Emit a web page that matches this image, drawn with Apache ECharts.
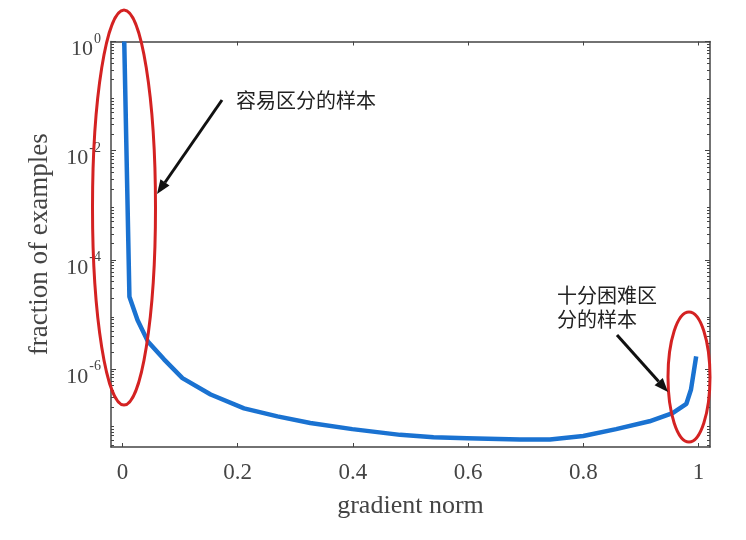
<!DOCTYPE html>
<html>
<head>
<meta charset="utf-8">
<script src="https://cdn.jsdelivr.net/npm/echarts@6/dist/echarts.min.js"></script>
<style>html,body{margin:0;padding:0;background:#fff}#c{width:746px;height:540px}</style>
</head>
<body>
<div id="c"></div>
<script>
// gradient norm (x) and fraction of examples (y)
const gradNorm = [0.003, 0.012, 0.026, 0.044, 0.072, 0.104, 0.153, 0.211, 0.269, 0.326, 0.399, 0.482, 0.540, 0.598, 0.690, 0.742, 0.800, 0.857, 0.915, 0.955, 0.979, 0.987, 0.996];
const fraction = [1, 2.1e-5, 7.9e-6, 3.2e-6, 1.5e-6, 6.8e-7, 3.4e-7, 1.9e-7, 1.35e-7, 1.02e-7, 7.9e-8, 6.2e-8, 5.6e-8, 5.4e-8, 5.1e-8, 5.1e-8, 5.9e-8, 7.9e-8, 1.1e-7, 1.55e-7, 2.3e-7, 4.2e-7, 1.7e-6];
const xTicks = [0, 0.2, 0.4, 0.6, 0.8, 1];
const yTickExponents = [-6, -4, -2, 0];
const annotEasy = '容易区分的样本';
const annotHard = '十分困难区\n分的样本';

const yMinExp = -7.43;
const minorExp = [];
for (let n = -8; n < 0; n++) for (let k = 2; k <= 9; k++) { const v = n + Math.log10(k); if (v >= yMinExp) minorExp.push(v); }

const serif = '"Liberation Serif", "Times New Roman", serif';
const axisCol = '#444';
const lineStyle = { color: axisCol, width: 1.5 };

const data = gradNorm.map((x, i) => [x, Math.log10(fraction[i])]);

function arrow(x1, y1, x2, y2) {
  const a = Math.atan2(y2 - y1, x2 - x1), L = 14, W = 5.5;
  const bx = x2 - L * Math.cos(a), by = y2 - L * Math.sin(a);
  return [
    { type: 'line', z: 100, shape: { x1, y1, x2: bx, y2: by }, style: { stroke: '#111', lineWidth: 3 } },
    { type: 'polygon', z: 100, shape: { points: [[x2, y2], [bx + W * Math.sin(a), by - W * Math.cos(a)], [bx - W * Math.sin(a), by + W * Math.cos(a)]] }, style: { fill: '#111' } }
  ];
}

const chart = echarts.init(document.getElementById('c'), null, { renderer: 'canvas' });
const xBase = { type: 'value', min: -0.02, max: 1.02, splitLine: { show: false } };
const yBase = { type: 'value', min: yMinExp, max: 0, splitLine: { show: false } };

chart.setOption({
  animation: false,
  backgroundColor: '#fff',
  grid: { left: 111, right: 36, top: 41.5, bottom: 93 },
  xAxis: [
    Object.assign({}, xBase, {
      position: 'bottom',
      axisLine: { onZero: false, lineStyle },
      axisTick: { inside: true, length: 4, lineStyle: { color: axisCol }, customValues: xTicks },
      axisLabel: { customValues: xTicks, margin: 14, fontSize: 23, fontFamily: serif, color: '#444', formatter: v => String(+v.toFixed(1)) },
      name: 'gradient norm', nameLocation: 'middle', nameGap: 46,
      nameTextStyle: { fontSize: 26, fontFamily: serif, color: '#444' }
    }),
    Object.assign({}, xBase, {
      position: 'top',
      axisLine: { onZero: false, lineStyle },
      axisTick: { inside: true, length: 4, lineStyle: { color: axisCol }, customValues: xTicks },
      axisLabel: { show: false }
    })
  ],
  yAxis: [
    Object.assign({}, yBase, {
      position: 'left',
      axisLine: { onZero: false, lineStyle },
      axisTick: { inside: true, length: 5, lineStyle: { color: axisCol }, customValues: yTickExponents },
      axisLabel: {
        customValues: yTickExponents, margin: 10,
        formatter: v => '{b|10}{s|' + Math.round(v) + '}',
        rich: {
          b: { fontSize: 22, fontFamily: serif, color: '#444', padding: [16, 1, 0, 0] },
          s: { fontSize: 14, fontFamily: serif, color: '#444', padding: [0, 0, 5, 0] }
        }
      },
      name: 'fraction of examples', nameLocation: 'middle', nameGap: 58,
      nameTextStyle: { fontSize: 27, fontFamily: serif, color: '#444' }
    }),
    Object.assign({}, yBase, {
      position: 'left',
      axisLine: { onZero: false, show: false },
      axisTick: { inside: true, length: 3, lineStyle: { color: axisCol }, customValues: minorExp },
      axisLabel: { show: false }
    }),
    Object.assign({}, yBase, {
      position: 'right',
      axisLine: { onZero: false, lineStyle },
      axisTick: { inside: true, length: 5, lineStyle: { color: axisCol }, customValues: yTickExponents },
      axisLabel: { show: false }
    }),
    Object.assign({}, yBase, {
      position: 'right',
      axisLine: { onZero: false, show: false },
      axisTick: { inside: true, length: 3, lineStyle: { color: axisCol }, customValues: minorExp },
      axisLabel: { show: false }
    })
  ],
  series: [{
    type: 'line', data, xAxisIndex: 0, yAxisIndex: 0,
    showSymbol: false, smooth: false,
    lineStyle: { color: '#1a72d1', width: 4.5 },
    z: 5
  }],
  graphic: [
    { type: 'ellipse', z: 100, shape: { cx: 124, cy: 207.5, rx: 31.5, ry: 197.5 }, style: { fill: 'transparent', stroke: '#d42222', lineWidth: 3 } },
    { type: 'ellipse', z: 100, shape: { cx: 689, cy: 377, rx: 21, ry: 65 }, style: { fill: 'transparent', stroke: '#d42222', lineWidth: 3 } },
    ...arrow(222, 100, 157, 194),
    ...arrow(617, 335, 668, 392),
    { type: 'text', z: 100, left: 236, top: 90, style: { text: annotEasy, font: '20px "Noto Sans CJK SC"', fill: '#222' } },
    { type: 'text', z: 100, left: 557, top: 283, style: { text: annotHard, font: '20px "Noto Sans CJK SC"', fill: '#222', lineHeight: 24 } }
  ]
});
</script>
</body>
</html>
